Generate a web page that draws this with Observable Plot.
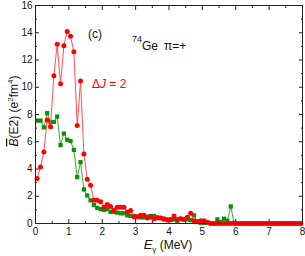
<!DOCTYPE html>
<html><head><meta charset="utf-8">
<script src="https://cdn.jsdelivr.net/npm/d3@7"></script>
<script src="https://cdn.jsdelivr.net/npm/@observablehq/plot@0.6"></script>
<style>
body{margin:0;background:#fff}
svg{font-family:"Liberation Sans",Arial,Helvetica,sans-serif}
</style>
</head><body><div id="chart"></div>
<script>
const energy = [0.05,0.15,0.25,0.35,0.45,0.55,0.65,0.75,0.85,0.95,
1.05,1.15,1.25,1.35,1.45,1.55,1.65,1.75,1.85,1.95,
2.05,2.15,2.25,2.35,2.45,2.55,2.65,2.75,2.85,2.95,
3.05,3.15,3.25,3.35,3.45,3.55,3.65,3.75,3.85,3.95,
4.05,4.15,4.25,4.35,4.45,4.55,4.65,4.75,4.85,4.95,
5.05,5.15,5.25,5.35,5.45,5.55,5.65,5.75,5.85,5.95,
6.05,6.15,6.25,6.35,6.45,6.55,6.65,6.75,6.85,6.95,
7.05,7.15,7.25,7.35,7.45,7.55,7.65,7.75,7.85,7.95];
const dJ2 = [3.3,4.15,5.25,7.6,7.1,10.85,13.15,10.25,13.05,14.1,
13.75,12.6,7.2,10.45,5.1,3.25,2.8,1.7,1.7,1.6,
1.2,1.4,1.25,0.95,1.2,1.2,1.2,0.85,0.95,0.5,
0.5,0.6,0.6,0.4,0.45,0.35,0.4,0.4,0.35,0.25,
0.3,0.55,0.3,0.35,0.3,0.45,0.75,0.2,0.15,0.2,
0.2,0.1,0,0,0,0,0,0,0,0,
0,0,0,0,0,0,0,0,0,0,
0,0,0,0,0,0,0,0,0,0];
const dJ1 = [7.55,7.55,7.05,8.1,7.45,7.45,7.85,5.75,6.6,6.15,
6.05,5.4,3.4,4.5,2.5,2.05,1.7,1.35,1.15,1.05,
1.0,1.05,0.85,0.85,0.8,0.75,0.75,0.6,0.55,0.55,
0.5,0.45,0.45,0.5,0.55,0.55,0.45,0.4,0.3,0.3,
0.25,0.3,0.2,0.35,0.3,0.3,0.25,0.6,0.1,0.05,
0.05,0.05,0,0,0.3,0.1,0.35,0.2,1.25,0.05,
0,0,0,0,0,0,0,0,0,0,
0,0,0,0,0,0,0,0,0,0];
const xTicks = [0,1,2,3,4,5,6,7,8];
const xMinor = [0.5,1.5,2.5,3.5,4.5,5.5,6.5,7.5];
const yTicks = [0,2,4,6,8,10,12,14,16];
const yMinor = [1,3,5,7,9,11,13,15];

const red = "#ff0000", redLine = "#ff5050";
const green = "#0a8f0a", greenLine = "#3aa83a";

const redData = energy.map((e,i)=>({e, b: dJ2[i]}));
const greenData = energy.map((e,i)=>({e, b: dJ1[i]}));

const tickOpts = {stroke:"#222", fill:"none", label:null};
const plot = Plot.plot({
  width:305, height:256,
  marginLeft:35, marginRight:3, marginTop:5, marginBottom:33,
  x:{domain:[0,8]}, y:{domain:[0,16]},
  style:{fontFamily:'"Liberation Sans",Arial,sans-serif', fontSize:"10px", background:"white", color:"#111"},
  marks:[
    Plot.axisX(xTicks, {...tickOpts, anchor:"bottom", tickSize:-4}),
    Plot.axisX(xMinor, {...tickOpts, anchor:"bottom", tickSize:-2}),
    Plot.axisX(xTicks, {...tickOpts, anchor:"top", tickSize:-4}),
    Plot.axisX(xMinor, {...tickOpts, anchor:"top", tickSize:-2}),
    Plot.axisY(yTicks, {...tickOpts, anchor:"left", tickSize:-4}),
    Plot.axisY(yMinor, {...tickOpts, anchor:"left", tickSize:-2}),
    Plot.axisY(yTicks, {...tickOpts, anchor:"right", tickSize:-4}),
    Plot.axisY(yMinor, {...tickOpts, anchor:"right", tickSize:-2}),
    Plot.axisX(xTicks, {anchor:"bottom", tickSize:0, tickPadding:4, label:null, fill:"#111"}),
    Plot.axisY(yTicks, {anchor:"left", tickSize:0, tickPadding:3, label:null, fill:"#111"}),
    Plot.line(greenData, {x:"e", y:"b", stroke:greenLine, strokeWidth:1}),
    Plot.dot(greenData, {x:"e", y:"b", symbol:"square", r:2.4, fill:green, stroke:"none"}),
    Plot.line(redData, {x:"e", y:"b", stroke:redLine, strokeWidth:1}),
    Plot.dot(redData, {x:"e", y:"b", r:2.5, fill:red, stroke:"none"}),
    Plot.frame({stroke:"#222", strokeWidth:1})
  ]
});
document.getElementById("chart").append(plot);

const svg = d3.select(plot);
const ff = '"Liberation Sans",Arial,sans-serif';
// panel label
svg.append("text").attr("x",88).attr("y",38).attr("text-anchor","start")
  .attr("font-size","12px").attr("font-family",ff).attr("fill","#111").text("(c)");
// nucleus label
const nuc = svg.append("text").attr("x",132).attr("y",50).attr("text-anchor","start")
  .attr("font-size","12px").attr("font-family",ff).attr("fill","#111");
nuc.append("tspan").attr("font-size","9px").attr("dy","-8").text("74");
nuc.append("tspan").attr("dy","8").text("Ge");
nuc.append("tspan").attr("x",164).text("π=+");
// delta J
const dj = svg.append("text").attr("x",92).attr("y",88).attr("text-anchor","start")
  .attr("font-size","12px").attr("font-family",ff).attr("fill",red);
dj.append("tspan").text("Δ");
dj.append("tspan").attr("font-style","italic").text("J");
dj.append("tspan").text(" = 2");
// y label
const yl = svg.append("text").attr("transform","translate(18,111) rotate(-90)")
  .attr("text-anchor","middle").attr("font-size","12px").attr("font-family",ff).attr("fill","#111");
yl.append("tspan").attr("font-style","italic").style("text-decoration","overline").text("B");
yl.append("tspan").text("(E2) (e");
yl.append("tspan").attr("font-size","8px").attr("dy","-5").text("2");
yl.append("tspan").attr("dy","5").text("fm");
yl.append("tspan").attr("font-size","8px").attr("dy","-5").text("4");
yl.append("tspan").attr("dy","5").text(")");
// x label
const xl = svg.append("text").attr("x",168).attr("y",249)
  .attr("text-anchor","middle").attr("font-size","12px").attr("font-family",ff).attr("fill","#111");
xl.append("tspan").attr("font-style","italic").attr("font-size","13px").text("E");
xl.append("tspan").attr("font-size","8px").attr("dy","3").text("γ");
xl.append("tspan").attr("dy","-3").text(" (MeV)");
</script>
</body></html>
